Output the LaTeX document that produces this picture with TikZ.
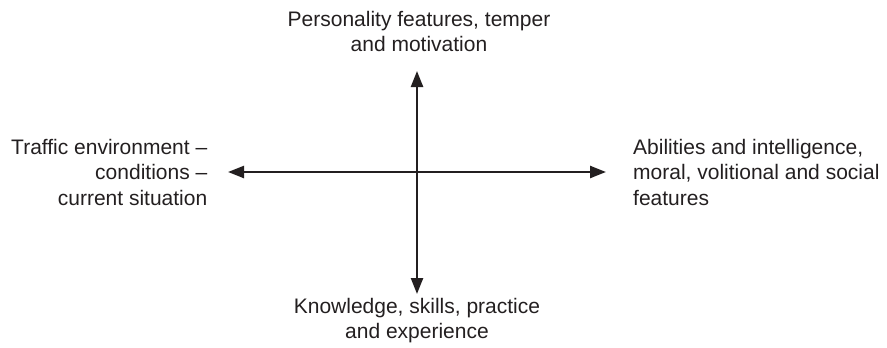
\documentclass[tikz,border=0pt]{standalone}
\usepackage{fontspec}
\setmainfont{Liberation Sans}
\usetikzlibrary{arrows.meta}
\definecolor{ink}{HTML}{231F20}
\begin{document}
\begin{tikzpicture}[x=1pt,y=-1pt,
  lbl/.style={text=ink,font=\fontsize{21}{25.5}\selectfont,inner sep=0pt,align=center},
  arr/.style={draw=ink,line width=2.4pt,{Triangle[length=16pt,width=12pt]}-{Triangle[length=16pt,width=12pt]}}]
\useasboundingbox (0,0) rectangle (887,348);
\coordinate (T) at (417,71);
\coordinate (B) at (417,294);
\coordinate (L) at (228,172);
\coordinate (R) at (606,172);
\node[lbl] (top) at (419,31.5) {Personality features, temper\\and motivation};
\node[lbl] (bot) at (417,320.5) {Knowledge, skills, practice\\and experience};
\node[lbl,align=right,anchor=east] (left) at (207.5,172) {Traffic environment --\\conditions --\\current situation};
\node[lbl,align=left,anchor=west] (right) at (633,172) {Abilities and intelligence,\\moral, volitional and social\\features};
\draw[arr] (L) -- (R);
\draw[arr] (T) -- (B);
\end{tikzpicture}
\end{document}
